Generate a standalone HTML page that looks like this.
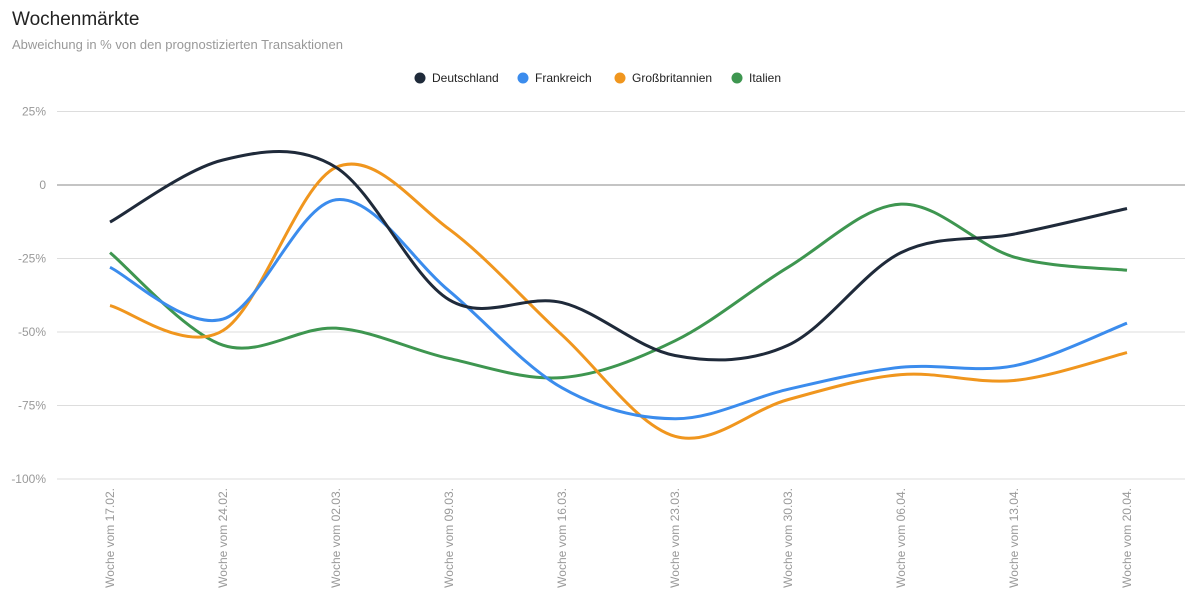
<!DOCTYPE html>
<html><head><meta charset="utf-8"><style>
body{margin:0;background:#fff;font-family:"Liberation Sans",Arial,sans-serif;}
</style></head><body>
<svg width="1199" height="603" xmlns="http://www.w3.org/2000/svg">
<text x="12" y="25" font-size="19" fill="#222">Wochenmärkte</text>
<text x="12" y="49" font-size="13" fill="#999">Abweichung in % von den prognostizierten Transaktionen</text>
<g id="legend"></g>
<g id="grid"></g><g id="lines"></g><g id="xl"></g>
</svg>
<script>
const categories=["Woche vom 17.02.","Woche vom 24.02.","Woche vom 02.03.","Woche vom 09.03.","Woche vom 16.03.","Woche vom 23.03.","Woche vom 30.03.","Woche vom 06.04.","Woche vom 13.04.","Woche vom 20.04."];
const seriesNames=["Deutschland","Frankreich","Großbritannien","Italien"];
const colors=["#1f2a3a","#3b8ced","#f0961e","#3e9650"];
const deutschland=[-12.6,8.5,6,-39,-40,-58,-54.5,-23,-16.7,-8];
const frankreich=[-28,-45.6,-5,-36,-69,-79.5,-69.5,-62,-61.5,-47];
const grossbritannien=[-41,-49.5,6,-15,-51,-85.5,-73,-64.5,-66.5,-57];
const italien=[-23,-54.5,-48.7,-59,-65.5,-53,-28,-6.5,-24.5,-29];
const yTicks=[25,0,-25,-50,-75,-100];
const yTickLabels=["25%","0","-25%","-50%","-75%","-100%"];
const series=[deutschland,frankreich,grossbritannien,italien];
const NS="http://www.w3.org/2000/svg";
const y=v=>185-v*(479-185)/100;
const x=i=>110+i*113;
function mk(t,a,p){const e=document.createElementNS(NS,t);for(const k in a)e.setAttribute(k,a[k]);p.appendChild(e);return e;}
const grid=document.getElementById('grid');
yTicks.forEach((t,i)=>{
 const l=mk('line',{x1:57,x2:1185,y1:y(t),y2:y(t),stroke:t===0?'#888':'#ddd','stroke-width':1},grid);
 
 
 const tx=mk('text',{x:46,y:y(t)+4,'text-anchor':'end','font-size':12,fill:'#999'},grid);
 tx.textContent=yTickLabels[i];
 
 
});
const xl=document.getElementById('xl');
categories.forEach((c,i)=>{
 const t=mk('text',{transform:`translate(${x(i)+4},488) rotate(-90)`,'text-anchor':'end','font-size':12,fill:'#999'},xl);
 t.textContent=c;
 
 
});
function path(vals){
 const p=vals.map((v,i)=>[x(i),y(v)]);const k=0.5/3*2;
 let d=`M${p[0][0]},${p[0][1]}`;
 for(let i=0;i<p.length-1;i++){
  const p0=p[i-1]||p[i],p1=p[i],p2=p[i+1],p3=p[i+2]||p2;
  const c1=[p1[0]+(p2[0]-p0[0])*k/2,p1[1]+(p2[1]-p0[1])*k/2];
  const c2=[p2[0]-(p3[0]-p1[0])*k/2,p2[1]-(p3[1]-p1[1])*k/2];
  d+=`C${c1[0]},${c1[1]} ${c2[0]},${c2[1]} ${p2[0]},${p2[1]}`;
 }
 return d;
}
const lines=document.getElementById('lines');
[3,2,1,0].forEach(s=>{
 const l=mk('path',{d:path(series[s]),fill:'none',stroke:colors[s],'stroke-width':3},lines);
 
 
});
const lg=document.getElementById('legend');
const lx=[414,517,614,731];
seriesNames.forEach((n,i)=>{
 const c=mk('circle',{cx:lx[i]+6,cy:78,r:5.5,fill:colors[i]},lg);
 
 
 const t=mk('text',{x:lx[i]+18,y:82,'font-size':12,fill:'#222'},lg);
 t.textContent=n;
 
 
});
</script>
</body></html>
